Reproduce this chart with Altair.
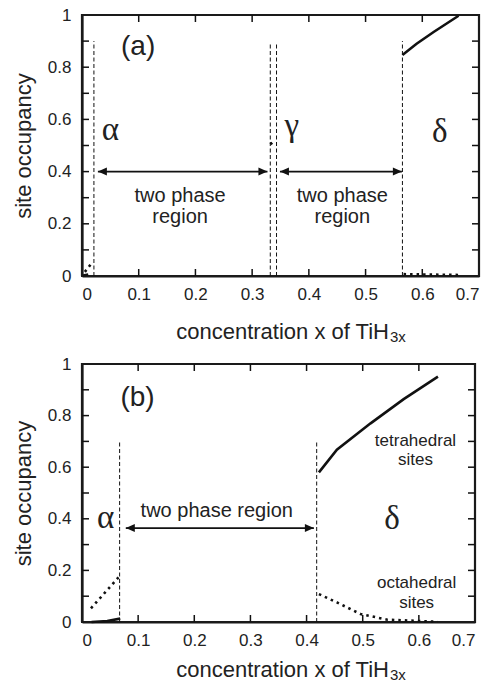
import altair as alt
import pandas as pd

# ---------------- panel (a) ----------------
a_alpha_solid_x = [0.002, 0.011]
a_alpha_solid_y = [0.002, 0.006]
a_alpha_dot_x = [0.005, 0.011, 0.019]
a_alpha_dot_y = [0.016, 0.032, 0.055]
a_gamma_x = [0.332, 0.338]
a_gamma_y = [0.505, 0.515]
a_delta_solid_x = [0.565, 0.59, 0.62, 0.664]
a_delta_solid_y = [0.847, 0.89, 0.935, 0.997]
a_delta_dot_x = [0.567, 0.6, 0.63, 0.665]
a_delta_dot_y = [0.007, 0.006, 0.005, 0.004]
a_bound_x = [0.021, 0.332, 0.343, 0.565]
a_bound_top = [0.9, 0.89, 0.89, 0.9]
a_arrow_x1 = [0.028, 0.349]
a_arrow_x2 = [0.327, 0.564]
a_arrow_y = [0.4, 0.4]
a_region_text = ["two phase\nregion", "two phase\nregion"]
a_region_x = [0.173, 0.459]
a_region_y = [0.285, 0.285]
a_phase_text = ["α", "γ", "δ"]
a_phase_x = [0.05, 0.37, 0.631]
a_phase_y = [0.52, 0.536, 0.515]
a_tag_text = ["(a)"]
a_tag_x = [0.099]
a_tag_y = [0.877]

# ---------------- panel (b) ----------------
b_alpha_solid_x = [0.017, 0.045, 0.068]
b_alpha_solid_y = [0.0, 0.004, 0.013]
b_alpha_dot_x = [0.016, 0.065]
b_alpha_dot_y = [0.053, 0.173]
b_tet_x = [0.422, 0.454, 0.514, 0.573, 0.634]
b_tet_y = [0.58, 0.668, 0.77, 0.864, 0.951]
b_oct_x = [0.422, 0.454, 0.496, 0.544, 0.633]
b_oct_y = [0.108, 0.076, 0.031, 0.009, 0.001]
b_bound_x = [0.067, 0.418]
b_bound_top = [0.7, 0.7]
b_arrow_x1 = [0.078]
b_arrow_x2 = [0.413]
b_arrow_y = [0.364]
b_region_text = ["two phase region"]
b_region_x = [0.24]
b_region_y = [0.406]
b_phase_text = ["α", "δ"]
b_phase_x = [0.042, 0.552]
b_phase_y = [0.363, 0.36]
b_site_text = ["tetrahedral\nsites", "octahedral\nsites"]
b_site_x = [0.594, 0.596]
b_site_y = [0.683, 0.13]
b_tag_text = ["(b)"]
b_tag_x = [0.099]
b_tag_y = [0.868]

# ---------------- shared axes ----------------
x_ticks = [0.1, 0.2, 0.3, 0.4, 0.5, 0.6]
y_ticks = [0.1, 0.2, 0.3, 0.4, 0.5, 0.6, 0.7, 0.8, 0.9]
x_labels = [0.0, 0.1, 0.2, 0.3, 0.4, 0.5, 0.6, 0.7]
y_labels = [0.0, 0.2, 0.4, 0.6, 0.8, 1.0]
X_MIN, X_MAX = 0.0, 0.7
Y_MIN, Y_MAX = 0.0, 1.0

SANS = "Liberation Sans"
SERIF = "Liberation Serif"
INK = "#111111"
FRAME = "#1a1a1a"
TXT = "#222222"
ARROW_R = "M0,0L-1.5,-0.67L-1.5,0.67Z"
ARROW_L = "M0,0L1.5,-0.67L1.5,0.67Z"
TICK_PX = 7

X_SCALE = alt.Scale(domain=[X_MIN, X_MAX], nice=False, zero=False)
Y_SCALE = alt.Scale(domain=[Y_MIN, Y_MAX], nice=False, zero=False)
X_AXIS = alt.Axis(values=x_labels, format="~g", ticks=False,
                  domain=True, domainColor=FRAME, domainWidth=2.2,
                  grid=False, labelPadding=10, title=None, labelOverlap=False)
Y_AXIS = alt.Axis(values=y_labels, format="~g", ticks=False,
                  domain=True, domainColor=FRAME, domainWidth=2.2,
                  grid=False, labelPadding=11, titlePadding=12,
                  title="site occupancy", labelOverlap=False)


def X(field):
    return alt.X(f"{field}:Q", scale=X_SCALE, axis=X_AXIS, title=None)


def Y(field):
    return alt.Y(f"{field}:Q", scale=Y_SCALE, axis=Y_AXIS, title="site occupancy")


def xy_frame(xs, ys):
    return pd.DataFrame({"x": xs, "y": ys})


def segment_frame(segs):
    """Two-point polylines, one id per segment, for a mark_line with detail."""
    rows = []
    for i, (x1, x2, y1, y2) in enumerate(segs):
        rows.append({"seg": i, "k": 0, "x": x1, "y": y1})
        rows.append({"seg": i, "k": 1, "x": x2, "y": y2})
    return pd.DataFrame(rows)


def panel(w, h, title_gap, solid_lines, dotted_lines, bounds, arrows,
          region, region_lh, phases, tag, sites=None):
    layers = []
    tx = (X_MAX - X_MIN) * TICK_PX / w   # tick length in data units
    ty = (Y_MAX - Y_MIN) * TICK_PX / h

    # plot frame as one closed polyline
    box = pd.DataFrame({"k": [0, 1, 2, 3, 4],
                        "x": [X_MIN, X_MAX, X_MAX, X_MIN, X_MIN],
                        "y": [Y_MIN, Y_MIN, Y_MAX, Y_MAX, Y_MIN]})
    layers.append(alt.Chart(box).mark_line(color=FRAME, strokeWidth=2.2,
                                           strokeJoin="miter").encode(
        x=X("x"), y=Y("y"), order="k:O"))

    # inward ticks on all four edges
    segs = []
    for v in x_ticks:
        segs.append((v, v, Y_MIN, Y_MIN + ty))
        segs.append((v, v, Y_MAX, Y_MAX - ty))
    for v in y_ticks:
        segs.append((X_MIN, X_MIN + tx, v, v))
        segs.append((X_MAX, X_MAX - tx, v, v))
    layers.append(alt.Chart(segment_frame(segs)).mark_line(
        color=INK, strokeWidth=1.5).encode(
        x=X("x"), y=Y("y"), detail="seg:N", order="k:O"))

    # phase boundaries
    bdf = pd.DataFrame({"x": bounds[0], "y": [0.0] * len(bounds[0]), "top": bounds[1]})
    layers.append(alt.Chart(bdf).mark_rule(color=INK, strokeWidth=1,
                                           strokeDash=[4, 2.5]).encode(
        x=X("x"), y=Y("y"), y2="top:Q"))

    # occupancy curves
    for xs_, ys_ in solid_lines:
        layers.append(alt.Chart(xy_frame(xs_, ys_)).mark_line(
            color=INK, strokeWidth=2.6).encode(x=X("x"), y=Y("y"), order="x:Q"))
    for xs_, ys_ in dotted_lines:
        layers.append(alt.Chart(xy_frame(xs_, ys_)).mark_line(
            color=INK, strokeWidth=2.6, strokeDash=[2.5, 4]).encode(
            x=X("x"), y=Y("y"), order="x:Q"))

    # double-headed arrows across the two phase regions
    adf = pd.DataFrame({"x": arrows[0], "x2": arrows[1], "y": arrows[2]})
    adf2 = pd.DataFrame({"x": arrows[1], "y": arrows[2]})
    layers.append(alt.Chart(adf).mark_rule(color=INK, strokeWidth=1.6).encode(
        x=X("x"), x2="x2:Q", y=Y("y")))
    layers.append(alt.Chart(adf).mark_point(shape=ARROW_L, filled=True, size=144,
                                            color=INK, opacity=1).encode(
        x=X("x"), y=Y("y")))
    layers.append(alt.Chart(adf2).mark_point(shape=ARROW_R, filled=True, size=144,
                                             color=INK, opacity=1).encode(
        x=X("x"), y=Y("y")))

    def labels(spec, **mark):
        df = pd.DataFrame({"t": spec[0], "x": spec[1], "y": spec[2]})
        return alt.Chart(df).mark_text(color=TXT, **mark).encode(
            x=X("x"), y=Y("y"), text="t:N")

    layers.append(labels(region, font=SANS, fontSize=20, align="center",
                         baseline="alphabetic", lineBreak="\n", lineHeight=region_lh))
    layers.append(labels(phases, font=SERIF, fontSize=33, align="center",
                         baseline="alphabetic"))
    layers.append(labels(tag, font=SANS, fontSize=28, align="center",
                         baseline="middle"))
    if sites is not None:
        layers.append(labels(sites, font=SANS, fontSize=17, align="center",
                             baseline="alphabetic", lineBreak="\n", lineHeight=19.5))

    # x-axis title with subscripted formula
    tdf = pd.DataFrame({"a": ["concentration x of TiH"], "b": ["3x"]})
    layers.append(alt.Chart(tdf).mark_text(
        font=SANS, fontSize=22, color=TXT, align="right", baseline="alphabetic").encode(
        x=alt.value(307), y=alt.value(h + title_gap), text="a:N"))
    layers.append(alt.Chart(tdf).mark_text(
        font=SANS, fontSize=15, color=TXT, align="left", baseline="alphabetic").encode(
        x=alt.value(308), y=alt.value(h + title_gap + 3), text="b:N"))

    return alt.layer(*layers).properties(width=w, height=h)


top = panel(
    397, 261, 63,
    solid_lines=[(a_alpha_solid_x, a_alpha_solid_y), (a_delta_solid_x, a_delta_solid_y)],
    dotted_lines=[(a_alpha_dot_x, a_alpha_dot_y), (a_gamma_x, a_gamma_y),
                  (a_delta_dot_x, a_delta_dot_y)],
    bounds=(a_bound_x, a_bound_top),
    arrows=(a_arrow_x1, a_arrow_x2, a_arrow_y),
    region=(a_region_text, a_region_x, a_region_y), region_lh=21,
    phases=(a_phase_text, a_phase_x, a_phase_y),
    tag=(a_tag_text, a_tag_x, a_tag_y),
)

bottom = panel(
    393, 258, 55,
    solid_lines=[(b_alpha_solid_x, b_alpha_solid_y), (b_tet_x, b_tet_y)],
    dotted_lines=[(b_alpha_dot_x, b_alpha_dot_y), (b_oct_x, b_oct_y)],
    bounds=(b_bound_x, b_bound_top),
    arrows=(b_arrow_x1, b_arrow_x2, b_arrow_y),
    region=(b_region_text, b_region_x, b_region_y), region_lh=21,
    phases=(b_phase_text, b_phase_x, b_phase_y),
    tag=(b_tag_text, b_tag_x, b_tag_y),
    sites=(b_site_text, b_site_x, b_site_y),
)

chart = alt.vconcat(top, bottom, spacing=8).properties(
    padding={"left": 11, "top": 5, "right": 0, "bottom": 0},
    background="white",
).configure_view(
    stroke="#1a1a1a", strokeWidth=2
).configure_axis(
    labelFont=SANS, labelFontSize=17, labelColor=TXT,
    titleFont=SANS, titleFontSize=22, titleFontWeight="normal", titleColor=TXT,
)

chart.save("out.html", embed_options={"renderer": "svg", "actions": False})
